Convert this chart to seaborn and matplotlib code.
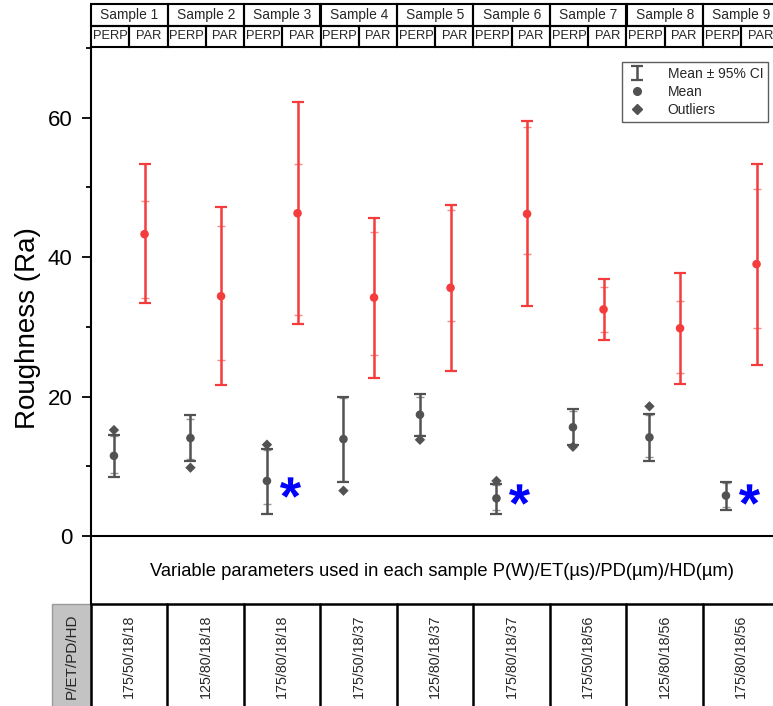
import matplotlib
matplotlib.use("Agg")
import matplotlib.pyplot as plt
from matplotlib.lines import Line2D
from matplotlib.patches import Rectangle
import numpy as np
import pandas as pd
import seaborn as sns

# ---- data -------------------------------------------------------------
samples = [f"Sample {i}" for i in range(1, 10)]
directions = ["PERP", "PAR"]
parameters = ["175/50/18/18", "125/80/18/18", "175/80/18/18",
              "175/50/18/37", "125/80/18/37", "175/80/18/37",
              "175/50/18/56", "125/80/18/56", "175/80/18/56"]

perp_mean = [11.5, 14.05, 7.9, 13.9, 17.4, 5.4, 15.6, 14.15, 5.8]
perp_whisker_low = [8.4, 10.8, 3.2, 7.7, 14.3, 3.2, 13.1, 10.75, 3.8]
perp_whisker_high = [14.5, 17.3, 12.5, 20.0, 20.3, 7.5, 18.2, 17.55, 7.8]
perp_ci_low = [9.0, 11.0, 4.6, 7.9, 14.5, 3.7, 13.2, 11.4, 4.1]
perp_ci_high = [14.3, 16.8, 12.4, 19.8, 19.9, 7.3, 18.0, 17.3, 7.6]

par_mean = [43.3, 34.4, 46.3, 34.2, 35.6, 46.2, 32.5, 29.8, 39.0]
par_whisker_low = [33.4, 21.6, 30.4, 22.6, 23.7, 33.0, 28.1, 21.8, 24.5]
par_whisker_high = [53.3, 47.2, 62.2, 45.6, 47.5, 59.5, 36.9, 37.7, 53.3]
par_ci_low = [34.1, 25.2, 31.7, 26.0, 30.8, 40.4, 29.2, 23.4, 29.8]
par_ci_high = [48.1, 44.4, 53.3, 43.6, 46.7, 58.7, 35.7, 33.7, 49.8]

outlier_sample = [1, 2, 3, 4, 5, 6, 7, 8]
outlier_value = [15.2, 9.8, 13.1, 6.5, 13.8, 7.9, 12.8, 18.6]

flagged_sample = [3, 6, 9]
flagged_value = [7.1, 6.0, 6.0]

# ---- style ------------------------------------------------------------
sns.set_theme(style="ticks")
plt.rcParams["font.family"] = ["Liberation Sans", "DejaVu Sans"]
plt.rcParams["mathtext.fontset"] = "custom"
plt.rcParams["mathtext.bf"] = "Liberation Sans:bold"
plt.rcParams["axes.edgecolor"] = "black"

GREY = "#525252"
RED = "#f43c3c"
colors = {"PERP": GREY, "PAR": RED}
offset = {"PERP": -0.2, "PAR": 0.2}

stats = {
    "PERP": (perp_mean, perp_whisker_low, perp_whisker_high, perp_ci_low, perp_ci_high),
    "PAR": (par_mean, par_whisker_low, par_whisker_high, par_ci_low, par_ci_high),
}
rows = []
for d in directions:
    m, wl, wh, cl, ch = stats[d]
    for i, s in enumerate(samples):
        rows.append(dict(sample=s, direction=d, pos=i + offset[d], mean=m[i],
                         wlo=wl[i], whi=wh[i], clo=cl[i], chi=ch[i]))
df = pd.DataFrame(rows)

out_df = pd.DataFrame({"pos": np.array(outlier_sample) - 1 + offset["PERP"],
                       "value": outlier_value})
flag_df = pd.DataFrame({"pos": np.array(flagged_sample) - 1 + 0.1,
                        "value": flagged_value})

# ---- figure layout (pixel based) ---------------------------------------
W, H = 773, 706
fig = plt.figure(figsize=(W / 100, H / 100), dpi=100)


def fig_rect(x0, y0, x1, y1):
    return [x0 / W, 1 - y1 / H, (x1 - x0) / W, (y1 - y0) / H]


AX_L, AX_R = 91, 91 + 76.5 * 9
ax = fig.add_axes(fig_rect(AX_L, 48, AX_R, 536))

# whiskers and confidence-interval ticks
handles = {}
for d, grp in df.groupby("direction"):
    eb = ax.errorbar(grp["pos"], grp["mean"],
                     yerr=[grp["mean"] - grp["wlo"], grp["whi"] - grp["mean"]],
                     fmt="none", ecolor=colors[d], elinewidth=1.8,
                     capsize=4.3, capthick=1.6, zorder=2)
    handles[d] = eb
    for col in ("clo", "chi"):
        ax.plot(grp["pos"], grp[col], ls="none", marker="_", ms=5.5, mew=1.0,
                color=colors[d], alpha=0.6, zorder=2)

sns.scatterplot(data=df, x="pos", y="mean", hue="direction", palette=colors,
                s=38, edgecolor="none", legend=False, ax=ax, zorder=3)
sns.scatterplot(data=out_df, x="pos", y="value", marker="D", color=GREY,
                s=28, edgecolor="none", legend=False, ax=ax, zorder=3)
sns.scatterplot(data=flag_df, x="pos", y="value", marker=r"$\mathbf{*}$",
                color="#0000ff", s=230, linewidth=0, legend=False, ax=ax, zorder=4)

ax.set_xlim(-0.5, 8.5)
ax.set_ylim(0, 70)
ax.set_xticks([])
ax.set_yticks([0, 20, 40, 60])
ax.set_yticks([10, 30, 50, 70], minor=True)
ax.tick_params(axis="y", which="major", length=6.5, width=1.3, pad=7,
               labelsize=16, color="black", labelcolor="black")
ax.tick_params(axis="y", which="minor", length=3.6, width=1.3, color="black")
ax.set_xlabel("")
ax.set_ylabel("Roughness (Ra)", fontsize=20, color="black")
ax.yaxis.set_label_coords(-0.073, 0.426)
for side in ("top", "right"):
    ax.spines[side].set_visible(False)
for side in ("left", "bottom"):
    ax.spines[side].set_linewidth(1.5)
ax.patch.set_alpha(0)

leg_handles = [handles["PERP"],
               Line2D([], [], ls="none", marker="o", ms=5.5, color=GREY),
               Line2D([], [], ls="none", marker="D", ms=5, color=GREY)]
leg = ax.legend(leg_handles, ["Mean \u00b1 95% CI", "Mean", "Outliers"],
                loc="upper right", bbox_to_anchor=((768 - AX_L) / (AX_R - AX_L), (536 - 62) / 488),
                borderaxespad=0, fontsize=10, frameon=True, fancybox=False,
                handlelength=1.4, handletextpad=1.5, labelspacing=0.3,
                borderpad=0.35)
leg.get_frame().set_edgecolor("#333333")
leg.get_frame().set_linewidth(1.0)

# ---- header: sample names and directions -------------------------------
hax = fig.add_axes(fig_rect(AX_L, 4, AX_R, 47))
hax.set_xlim(-0.5, 8.5)
hax.set_ylim(0, 2)
hax.axis("off")
for i, s in enumerate(samples):
    hax.add_patch(Rectangle((i - 0.5, 1), 1, 1, fill=False, ec="black",
                            lw=1.5, clip_on=False))
    hax.text(i, 1.5, s, ha="center", va="center", fontsize=9.9)
    for j, d in enumerate(directions):
        x0 = i - 0.5 + 0.5 * j
        hax.add_patch(Rectangle((x0, 0), 0.5, 1, fill=False, ec="black",
                                lw=1.5, clip_on=False))
        hax.text(x0 + 0.25, 0.5, d, ha="center", va="center", fontsize=9.3)

# ---- middle strip -----------------------------------------------------
fig.add_artist(Line2D([AX_L / W, AX_L / W], [1 - 536 / H, 1 - 604 / H],
                      color="black", lw=1.5))
fig.text(442 / W, 1 - 572 / H,
         "Variable parameters used in each sample P(W)/ET(\u00b5s)/PD(\u00b5m)/HD(\u00b5m)",
         ha="center", va="center", fontsize=13.2, color="black")

# ---- parameter table --------------------------------------------------
TB_TOP, TB_BOT = 604, 712
tax = fig.add_axes(fig_rect(52, TB_TOP, AX_R, TB_BOT))
xmin = -0.5 - (AX_L - 52) / 76.5
tax.set_xlim(xmin, 8.5)
tax.set_ylim(0, 1)
tax.axis("off")
tax.add_patch(Rectangle((xmin, 0), -0.5 - xmin, 1, fc="#c3c3c3", ec="#9a9a9a",
                        lw=1.0, clip_on=False))
tax.plot([-0.5, 8.5], [1, 1], color="black", lw=1.8, clip_on=False)
for k in range(10):
    tax.plot([k - 0.5, k - 0.5], [0, 1], color="black", lw=1.8, clip_on=False)
ty = (TB_BOT - 656) / (TB_BOT - TB_TOP)
tax.text((xmin - 0.5) / 2, ty, "P/ET/PD/HD", rotation=90, ha="center",
         va="center", fontsize=11)
for i, p in enumerate(parameters):
    tax.text(i, ty, p, rotation=90, ha="center", va="center", fontsize=10.3)

fig.savefig("out.png", dpi=100)
